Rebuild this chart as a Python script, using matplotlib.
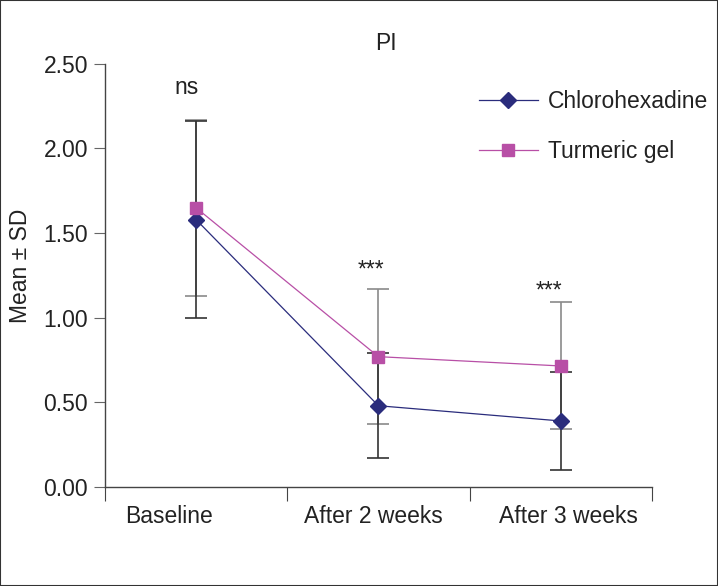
import matplotlib
matplotlib.use("Agg")
import matplotlib.pyplot as plt
from matplotlib.patches import Rectangle
from matplotlib.transforms import ScaledTranslation
import numpy as np

categories = ["Baseline", "After 2 weeks", "After 3 weeks"]
chlor_mean = [1.58, 0.48, 0.39]
chlor_sd = [0.58, 0.31, 0.29]
turm_mean = [1.65, 0.77, 0.715]
turm_sd = [0.52, 0.40, 0.375]
sig_labels = ["ns", "***", "***"]
sig_y = [2.36, 1.28, 1.16]
yticks = [0.0, 0.5, 1.0, 1.5, 2.0, 2.5]

plt.rcParams['font.family'] = ['Liberation Sans', 'DejaVu Sans']
FS = 16.5

fig = plt.figure(figsize=(7.18, 5.86), dpi=100)
ax = fig.add_axes([0.146, 0.169, 0.762, 0.722])

x = np.arange(len(categories)) + 0.5
navy = '#2a2c7c'
pink = '#b84fa6'

ax.errorbar(x, turm_mean, yerr=turm_sd, fmt='none', ecolor='#8a8a8a',
            elinewidth=1.2, capsize=8, capthick=1.2, zorder=2)
ax.errorbar(x, chlor_mean, yerr=chlor_sd, fmt='none', ecolor='#333333',
            elinewidth=1.2, capsize=8, capthick=1.2, zorder=2)
ax.plot(x, chlor_mean, color=navy, lw=0.9, marker='D', markersize=8.5,
        markerfacecolor=navy, markeredgecolor=navy, label='Chlorohexadine', zorder=3)
ax.plot(x, turm_mean, color=pink, lw=0.9, marker='s', markersize=8.5,
        markerfacecolor=pink, markeredgecolor=pink, label='Turmeric gel', zorder=4)

sig_offsets_px = [-9, -7, -12]
for xi, s, yy, dx in zip(x, sig_labels, sig_y, sig_offsets_px):
    t = ax.text(xi, yy, s, ha='center', va='center', fontsize=FS, color='#222222')
    t.set_transform(ax.transData + ScaledTranslation(dx / 100, 0, fig.dpi_scale_trans))

ax.set_xlim(0, 3)
ax.set_ylim(0, 2.5)
ax.set_yticks(yticks)
ax.set_yticklabels([f"{v:.2f}" for v in yticks])
ax.set_xticks([0, 1, 2, 3])
ax.set_xticklabels([])
ax.set_xticks(x, minor=True)
ax.set_xticklabels(categories, minor=True)
ax.tick_params(axis='x', which='minor', length=0, pad=13, labelsize=FS, labelcolor='#222222')
ax.tick_params(axis='x', which='major', length=10, direction='out', color='#444444')
ax.tick_params(axis='y', length=8, direction='out', labelsize=FS, labelcolor='#222222', color='#666666', pad=4)

# slight horizontal offsets of category labels as in the reference
offsets_px = [-27, -5, 8]
for lab, dx in zip(ax.get_xticklabels(minor=True), offsets_px):
    lab.set_transform(lab.get_transform() + ScaledTranslation(dx / 100, 0, fig.dpi_scale_trans))

for s in ['top', 'right']:
    ax.spines[s].set_visible(False)
for s in ['left', 'bottom']:
    ax.spines[s].set_color('#444444')
    ax.spines[s].set_linewidth(1.0)

ax.set_ylabel("Mean ± SD", fontsize=FS, color='#222222', labelpad=8, y=0.522)
ax.set_title("PI", fontsize=FS, color='#222222', pad=10, x=0.513)

leg = ax.legend(loc='upper left', bbox_to_anchor=(0.646, 0.987), frameon=False,
                fontsize=FS, handlelength=2.57, labelspacing=1.18, handletextpad=0.43,
                labelcolor='#222222')

fig.patches.append(Rectangle((0, 0), 1, 1, transform=fig.transFigure, fill=False,
                             edgecolor='#333333', linewidth=1.5))

fig.savefig("out.png", dpi=100)
